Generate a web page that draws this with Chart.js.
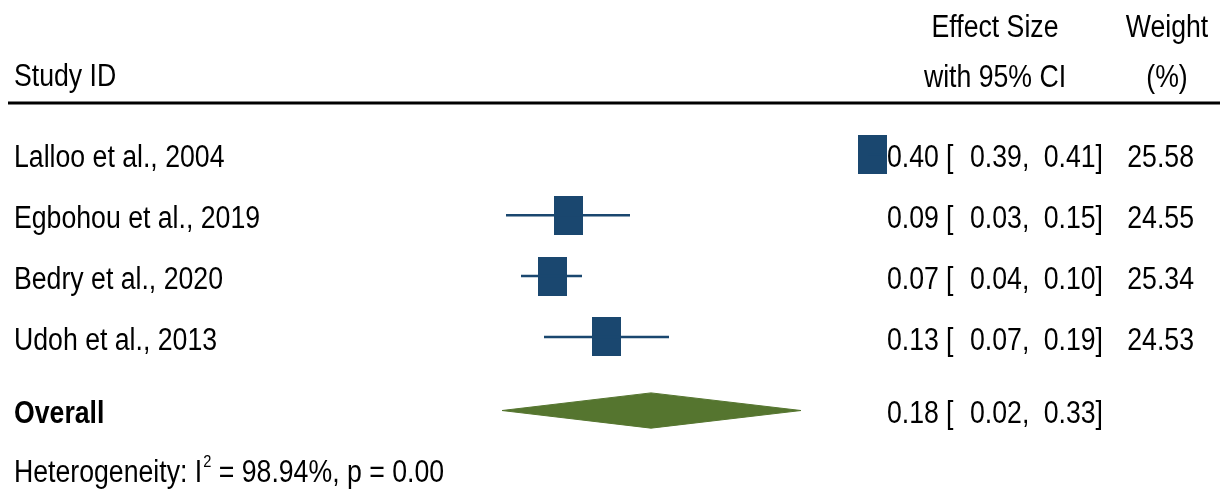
<!DOCTYPE html>
<html>
<head>
<meta charset="utf-8">
<script src="https://cdn.jsdelivr.net/npm/chart.js@4.4.1/dist/chart.umd.min.js"></script>
<style>
    html, body { margin: 0; padding: 0; background: #fff; overflow: hidden; }
    canvas { display: block; }
</style>
</head>
<body>
<canvas id="forestChart" width="1227" height="492" style="width:1227px;height:492px"></canvas>
<script>
const studies = ['Lalloo et al., 2004', 'Egbohou et al., 2019', 'Bedry et al., 2020', 'Udoh et al., 2013'];
const effect = [0.394, 0.09, 0.074, 0.128];
const ciLow = [0.39, 0.028, 0.043, 0.066];
const ciHigh = [0.41, 0.152, 0.104, 0.191];
const weights = [25.58, 24.55, 25.34, 24.53];
const effectText = ['0.40', '0.09', '0.07', '0.13'];
const lowText = ['0.39', '0.03', '0.04', '0.07'];
const highText = ['0.41', '0.15', '0.10', '0.19'];
const weightText = ['25.58', '24.55', '25.34', '24.53'];

const overallLabel = 'Overall';
const overall = [0.024, 0.173, 0.323];
const overallText = ['0.18', '0.02', '0.33'];
const heterogeneity = ['Heterogeneity: I', '2', ' = 98.94%, p = 0.00'];

const overallRow = 4.21;
const hetRow = 5.17;

const navy = '#1a476f';
const olive = '#55752f';
const FONT = '"Liberation Sans", Arial, sans-serif';
const NARROW = 0.86; // squeeze Liberation Sans towards Arial Narrow

// box marker, area proportional to weight
function boxFor(w) {
    const k = Math.sqrt(w / 25);
    const c = document.createElement('canvas');
    c.width = Math.round(29 * k);
    c.height = Math.round(39 * k);
    const g = c.getContext('2d');
    g.fillStyle = navy;
    g.fillRect(0, 0, c.width, c.height);
    return c;
}

const whiskerSets = studies.map((s, i) => ({
    type: 'scatter',
    data: [{x: ciLow[i], y: i}, {x: ciHigh[i], y: i}],
    showLine: true,
    borderColor: navy,
    borderWidth: 2.5,
    pointRadius: 0,
    clip: 0
}));

const boxSet = {
    type: 'scatter',
    data: studies.map((s, i) => ({x: effect[i], y: i})),
    pointStyle: weights.map(boxFor),
    pointRadius: 15,
    clip: 0
};

const diamondSet = {
    type: 'scatter',
    data: [
        {x: overall[0], y: overallRow},
        {x: overall[1], y: overallRow - 0.29},
        {x: overall[2], y: overallRow},
        {x: overall[1], y: overallRow + 0.29},
        {x: overall[0], y: overallRow}
    ],
    showLine: true,
    fill: 'shape',
    backgroundColor: olive,
    borderColor: olive,
    borderWidth: 1,
    pointRadius: 0,
    tension: 0,
    clip: 0
};

function text(ctx, str, x, y, align) {
    ctx.save();
    ctx.translate(x, y);
    ctx.scale(NARROW, 1);
    ctx.textAlign = align || 'left';
    ctx.fillText(str, 0, 0);
    ctx.restore();
}

const textPlugin = {
    id: 'forestText',
    afterDraw(chart) {
        const ctx = chart.ctx;
        const y = chart.scales.y;
        ctx.save();
        ctx.fillStyle = '#000';
        ctx.textBaseline = 'alphabetic';
        ctx.font = '31px ' + FONT;

        // headers
        text(ctx, 'Study ID', 14, 86);
        text(ctx, 'Effect Size', 995, 37, 'center');
        text(ctx, 'with 95% CI', 995, 87, 'center');
        text(ctx, 'Weight', 1167, 37, 'center');
        text(ctx, '(%)', 1167, 87, 'center');

        ctx.strokeStyle = '#000';
        ctx.lineWidth = 3;
        ctx.beginPath();
        ctx.moveTo(8, 103);
        ctx.lineTo(1220, 103);
        ctx.stroke();

        const row = (py, name, est, lo, hi, wt) => {
            if (name) text(ctx, name, 14, py);
            text(ctx, est, 887, py);
            text(ctx, '[', 946, py);
            text(ctx, lo + ',', 970, py);
            text(ctx, hi + ']', 1103, py, 'right');
            if (wt) text(ctx, wt, 1194, py, 'right');
        };

        studies.forEach((s, i) => {
            row(y.getPixelForValue(i) + 13, s, effectText[i], lowText[i], highText[i], weightText[i]);
        });

        const oy = y.getPixelForValue(overallRow) + 12.5;
        ctx.font = 'bold 31px ' + FONT;
        text(ctx, overallLabel, 14, oy);
        ctx.font = '31px ' + FONT;
        row(oy, '', overallText[0], overallText[1], overallText[2], null);

        const hy = y.getPixelForValue(hetRow) + 13;
        let hx = 14;
        text(ctx, heterogeneity[0], hx, hy);
        hx += ctx.measureText(heterogeneity[0]).width * NARROW;
        ctx.font = '17px ' + FONT;
        text(ctx, heterogeneity[1], hx + 1, hy - 15);
        hx += ctx.measureText(heterogeneity[1]).width * NARROW + 1;
        ctx.font = '31px ' + FONT;
        text(ctx, heterogeneity[2], hx, hy);
        ctx.restore();
    }
};

function initializeChart() {
    new Chart(document.getElementById('forestChart'), {
        type: 'scatter',
        data: { datasets: [...whiskerSets, boxSet, diamondSet] },
        options: {
            responsive: false,
            animation: false,
            devicePixelRatio: 1,
            layout: { autoPadding: false, padding: { left: 378, right: 340, top: 124, bottom: 3 } },
            plugins: { legend: { display: false }, tooltip: { enabled: false } },
            scales: {
                x: { type: 'linear', min: -0.1, max: 0.409, display: false },
                y: { type: 'linear', min: -0.5, max: 5.5, reverse: true, display: false }
            }
        },
        plugins: [textPlugin]
    });
}

document.addEventListener('DOMContentLoaded', initializeChart);
</script>
</body>
</html>
